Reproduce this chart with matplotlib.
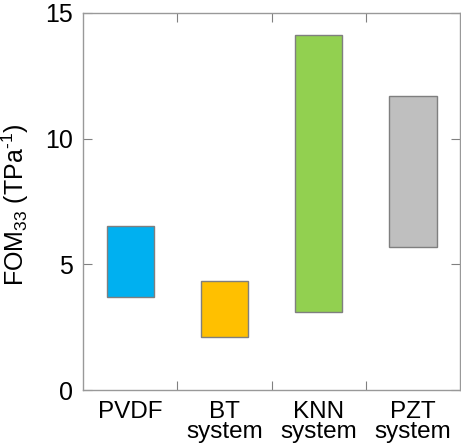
import numpy as np
import matplotlib
matplotlib.use("Agg")
import matplotlib.pyplot as plt

plt.rcParams['font.family'] = ['Liberation Sans', 'DejaVu Sans']
plt.rcParams['mathtext.fontset'] = 'custom'
plt.rcParams['mathtext.rm'] = 'Liberation Sans'
plt.rcParams['mathtext.it'] = 'Liberation Sans:italic'

# floating bars: lower and upper FOM33 limits per material system
categories = ['PVDF', 'BT\nsystem', 'KNN\nsystem', 'PZT\nsystem']
fom_low = [3.72, 2.12, 3.12, 5.69]
fom_high = [6.53, 4.35, 14.14, 11.70]
colors = ['#00B0F0', '#FFC000', '#92D050', '#BFBFBF']

fig = plt.figure(figsize=(4.61, 4.47), dpi=100)
ax = fig.add_axes([0.18, 0.1275, 0.818, 0.8435])

x = np.arange(len(categories)) + 0.5
heights = np.array(fom_high) - np.array(fom_low)
ax.bar(x, heights, bottom=fom_low, width=0.5, color=colors,
       edgecolor='#7f7f7f', linewidth=1.0, zorder=3)

ax.set_xlim(0, 4)
ax.set_ylim(0, 15)
ax.set_yticks([0, 5, 10, 15])

# category boundaries as major ticks, labels on minor ticks
ax.set_xticks([1, 2, 3])
ax.set_xticklabels([])
ax.set_xticks(x, minor=True)
ax.set_xticklabels(categories, minor=True, fontsize=17.5, linespacing=0.9)
ax.tick_params(axis='x', which='minor', length=0, pad=8)

ax.tick_params(axis='both', which='major', direction='in', length=6.5,
               width=0.8, color='#808080', top=True, right=True)
ax.tick_params(axis='y', labelsize=18, pad=7.5)

for s in ax.spines.values():
    s.set_color('#999999')
    s.set_linewidth(1.0)

ax.set_ylabel('FOM$_{33}$ (TPa$^{\\text{-1}}$)', fontsize=18)
ax.yaxis.set_label_coords(-0.137, 0.49)

fig.savefig('out.png', dpi=100)
